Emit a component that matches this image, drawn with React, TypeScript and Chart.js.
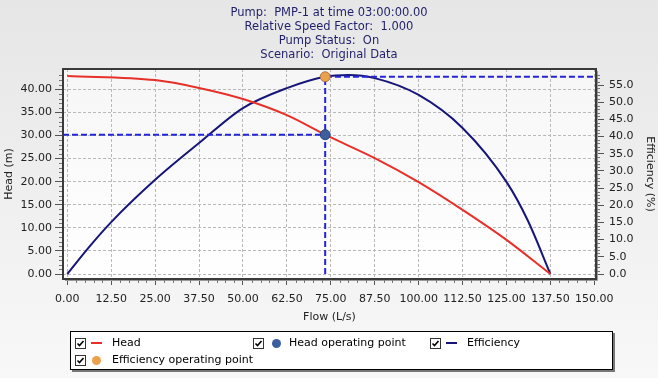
import React, { useEffect, useRef } from 'react';
import { Chart, registerables } from 'chart.js';

Chart.register(...registerables);

// ---------- data ----------
const titleLines = [
  'Pump:  PMP-1 at time 03:00:00.00',
  'Relative Speed Factor:  1.000',
  'Pump Status:  On',
  'Scenario:  Original Data',
];

const headFlow = [0, 25, 37.5, 50, 62.5, 73.4, 87.5, 100, 112.5, 125, 137.5];
const headValues = [42.9, 42.0, 40.3, 37.9, 34.4, 30.17, 25.1, 19.9, 13.9, 7.4, 0];

const effFlow = [0, 6.25, 12.5, 25, 37.5, 50, 62.5, 73.4, 80, 87.5, 100, 112.5, 125, 131, 137.5];
const effValues = [0, 7.9, 15.1, 27.4, 38.1, 48.3, 54.1, 57.4, 57.9, 57.0, 52.1, 42.5, 26.8, 15.7, 0];

const opFlow = 73.4;
const opHead = 30.17;
const opEff = 57.4;

const xTicks = [0, 12.5, 25, 37.5, 50, 62.5, 75, 87.5, 100, 112.5, 125, 137.5, 150];
const headTicks = [0, 5, 10, 15, 20, 25, 30, 35, 40];
const effTicks = [0, 5, 10, 15, 20, 25, 30, 35, 40, 45, 50, 55];

const xRange = [-1.22, 150.48];
const headRange = [-1.08, 44.4];
const effRange = [-1.455, 59.66];

const legendLabels = ['Head', 'Head operating point', 'Efficiency', 'Efficiency operating point'];

// ---------- styles ----------
const FONT = 'DejaVu Sans';
const RED = '#e8302a';
const NAVY = '#16167a';
const DASH_BLUE = '#2424d8';
const OP_BLUE = '#3d5f9e';
const OP_ORANGE = '#eba04a';
const GRID = '#b9b9b9';

const decorPlugin = {
  id: 'decor',
  beforeDraw(chart: any) {
    const { ctx, width, height, chartArea: a } = chart;
    ctx.save();
    const g = ctx.createLinearGradient(0, 0, 0, height);
    g.addColorStop(0, '#e6e6e6');
    g.addColorStop(1, '#f8f8f8');
    ctx.fillStyle = g;
    ctx.fillRect(0, 0, width, height);
    const g2 = ctx.createLinearGradient(0, a.top, 0, a.bottom);
    g2.addColorStop(0, '#f6f6f6');
    g2.addColorStop(1, '#ffffff');
    ctx.fillStyle = g2;
    ctx.fillRect(a.left, a.top, a.right - a.left, a.bottom - a.top);
    ctx.restore();
  },
  afterDraw(chart: any) {
    const { ctx, chartArea: a, scales } = chart;
    ctx.save();
    // frame
    ctx.strokeStyle = '#9a9a9a';
    ctx.lineWidth = 1;
    ctx.beginPath();
    ctx.moveTo(a.right + 1.5, a.top + 2);
    ctx.lineTo(a.right + 1.5, a.bottom + 1.5);
    ctx.lineTo(a.left + 2, a.bottom + 1.5);
    ctx.stroke();
    ctx.strokeStyle = '#3a3a3a';
    ctx.lineWidth = 2;
    ctx.strokeRect(a.left, a.top, a.right - a.left, a.bottom - a.top);
    // minor ticks
    ctx.strokeStyle = '#777';
    ctx.lineWidth = 1;
    ctx.beginPath();
    const y = scales.y, y1 = scales.y1, x = scales.x;
    for (let v = 1; v < 44; v++) {
      if (v % 5 === 0) continue;
      const p = Math.round(y.getPixelForValue(v)) + 0.5;
      ctx.moveTo(a.left - 1, p);
      ctx.lineTo(a.left - 4, p);
    }
    for (let v = 1; v < 59; v++) {
      if (v % 5 === 0) continue;
      const p = Math.round(y1.getPixelForValue(v)) + 0.5;
      ctx.moveTo(a.right + 1, p);
      ctx.lineTo(a.right + 4, p);
    }
    for (let v = 2.5; v < 150; v += 2.5) {
      if (Math.abs(v / 12.5 - Math.round(v / 12.5)) < 1e-6) continue;
      const p = Math.round(x.getPixelForValue(v)) + 0.5;
      ctx.moveTo(p, a.bottom + 1);
      ctx.lineTo(p, a.bottom + 4);
    }
    ctx.stroke();
    // title
    ctx.fillStyle = '#1f1f6b';
    ctx.font = `11.5px "${FONT}"`;
    ctx.textAlign = 'center';
    ctx.textBaseline = 'middle';
    titleLines.forEach((t, i) => ctx.fillText(t, 329, 13.5 + i * 14));
    ctx.restore();
  },
};

const tickFont = { family: FONT, size: 11 };

function buildConfig(): any {
  return {
    type: 'line',
    data: {
      datasets: [
        {
          label: legendLabels[1],
          data: [{ x: opFlow, y: opHead }],
          yAxisID: 'y',
          showLine: false,
          pointRadius: 5,
          pointBackgroundColor: OP_BLUE,
          pointBorderColor: '#2b4578',
          pointBorderWidth: 1,
          order: 0,
        },
        {
          label: legendLabels[3],
          data: [{ x: opFlow, y: opEff }],
          yAxisID: 'y1',
          showLine: false,
          pointRadius: 5,
          pointBackgroundColor: OP_ORANGE,
          pointBorderColor: '#a87a50',
          pointBorderWidth: 1,
          order: 0,
        },
        {
          label: 'head-guide',
          data: [
            { x: xRange[0], y: opHead },
            { x: opFlow, y: opHead },
          ],
          yAxisID: 'y',
          borderColor: DASH_BLUE,
          borderWidth: 2,
          borderDash: [6, 3],
          pointRadius: 0,
          fill: false,
          order: 1,
        },
        {
          label: 'eff-guide',
          data: [
            { x: opFlow, y: 0 },
            { x: opFlow, y: opEff },
            { x: xRange[1], y: opEff },
          ],
          yAxisID: 'y1',
          borderColor: DASH_BLUE,
          borderWidth: 2,
          borderDash: [6, 3],
          pointRadius: 0,
          fill: false,
          order: 1,
        },
        {
          label: legendLabels[0],
          data: headFlow.map((f, i) => ({ x: f, y: headValues[i] })),
          yAxisID: 'y',
          borderColor: RED,
          borderWidth: 2,
          pointRadius: 0,
          cubicInterpolationMode: 'monotone',
          fill: false,
          order: 2,
        },
        {
          label: legendLabels[2],
          data: effFlow.map((f, i) => ({ x: f, y: effValues[i] })),
          yAxisID: 'y1',
          borderColor: NAVY,
          borderWidth: 2,
          pointRadius: 0,
          cubicInterpolationMode: 'monotone',
          fill: false,
          order: 2,
        },
      ],
    },
    options: {
      animation: false,
      responsive: false,
      maintainAspectRatio: false,
      events: [],
      layout: { padding: { top: 69, bottom: 50, left: 0, right: 0 } },
      plugins: {
        legend: { display: false },
        tooltip: { enabled: false },
        title: { display: false },
      },
      scales: {
        x: {
          type: 'linear',
          position: 'bottom',
          min: xRange[0],
          max: xRange[1],
          afterBuildTicks: (s: any) => {
            s.ticks = xTicks.map((v) => ({ value: v }));
          },
          afterFit: (s: any) => {
            s.height = 49;
          },
          ticks: {
            autoSkip: false,
            maxRotation: 0,
            padding: 8,
            color: '#222',
            font: tickFont,
            callback: (v: any) => Number(v).toFixed(2),
          },
          grid: {
            color: GRID,
            lineWidth: 1,
            tickColor: '#555',
            tickLength: 6,
            tickBorderDash: [],
          },
          border: { display: false, dash: [3, 2] },
          title: {
            display: true,
            text: 'Flow (L/s)',
            color: '#222',
            font: tickFont,
            padding: { top: 2, bottom: 4 },
          },
        },
        y: {
          type: 'linear',
          position: 'left',
          min: headRange[0],
          max: headRange[1],
          afterBuildTicks: (s: any) => {
            s.ticks = headTicks.map((v) => ({ value: v }));
          },
          afterFit: (s: any) => {
            s.width = 63;
          },
          ticks: {
            padding: 3,
            color: '#222',
            font: tickFont,
            callback: (v: any) => Number(v).toFixed(2),
          },
          grid: {
            color: GRID,
            lineWidth: 1,
            tickColor: '#555',
            tickLength: 8,
            tickBorderDash: [],
          },
          border: { display: false, dash: [3, 2] },
          title: {
            display: true,
            text: 'Head (m)',
            color: '#222',
            font: tickFont,
            padding: { top: 3, bottom: 2 },
          },
        },
        y1: {
          type: 'linear',
          position: 'right',
          min: effRange[0],
          max: effRange[1],
          afterBuildTicks: (s: any) => {
            s.ticks = effTicks.map((v) => ({ value: v }));
          },
          afterFit: (s: any) => {
            s.width = 62;
          },
          ticks: {
            padding: 5,
            color: '#222',
            font: tickFont,
            callback: (v: any) => Number(v).toFixed(1),
          },
          grid: {
            drawOnChartArea: false,
            tickColor: '#555',
            tickLength: 8,
            tickBorderDash: [],
          },
          border: { display: false },
          title: {
            display: true,
            text: 'Efficiency (%)',
            color: '#222',
            font: tickFont,
            padding: { top: 2, bottom: 4 },
          },
        },
      },
    },
    plugins: [decorPlugin],
  };
}

// ---------- legend (HTML) ----------
const legendLayout = [
  { label: legendLabels[0], kind: 'line', color: RED, box: 75, mark: 91, text: 112, row: 0 },
  { label: legendLabels[1], kind: 'dot', color: OP_BLUE, box: 253, mark: 272, text: 289, row: 0 },
  { label: legendLabels[2], kind: 'line', color: NAVY, box: 430, mark: 446, text: 467, row: 0 },
  { label: legendLabels[3], kind: 'dot', color: OP_ORANGE, box: 75, mark: 92, text: 112, row: 1 },
];
const rowY = [343, 360];

function CheckBox({ left, cy }: { left: number; cy: number }) {
  return (
    <svg
      width={11}
      height={11}
      style={{ position: 'absolute', left, top: cy - 5.5 }}
    >
      <rect x={0.5} y={0.5} width={10} height={10} fill="#fff" stroke="#333" strokeWidth={1} />
      <polyline points="2.5,5.5 4.5,7.5 8.5,3" fill="none" stroke="#000" strokeWidth={1.6} />
    </svg>
  );
}

export default function App() {
  const ref = useRef<HTMLCanvasElement>(null);
  useEffect(() => {
    const chart = new Chart(ref.current as HTMLCanvasElement, buildConfig());
    return () => chart.destroy();
  }, []);
  return (
    <div style={{ position: 'absolute', left: 0, top: 0, width: 658, height: 378, overflow: 'hidden' }}>
      <canvas ref={ref} width={658} height={378} style={{ display: 'block', width: 658, height: 378 }} />
      <div
        style={{
          position: 'absolute',
          left: 70,
          top: 331,
          width: 541,
          height: 37,
          background: '#fff',
          border: '1px solid #000',
          boxShadow: '2px 2px 0 #777',
        }}
      />
      {legendLayout.map((it) => {
        const cy = rowY[it.row];
        return (
          <React.Fragment key={it.label}>
            <CheckBox left={it.box} cy={cy} />
            {it.kind === 'line' ? (
              <div
                style={{
                  position: 'absolute',
                  left: it.mark,
                  top: cy - 1,
                  width: 11,
                  height: 2,
                  background: it.color,
                }}
              />
            ) : (
              <div
                style={{
                  position: 'absolute',
                  left: it.mark,
                  top: cy - 4.5,
                  width: 9,
                  height: 9,
                  borderRadius: '50%',
                  background: it.color,
                }}
              />
            )}
            <div
              style={{
                position: 'absolute',
                left: it.text,
                top: cy - 8,
                height: 16,
                lineHeight: '16px',
                fontFamily: FONT,
                fontSize: 11,
                color: '#000',
                whiteSpace: 'nowrap',
              }}
            >
              {it.label}
            </div>
          </React.Fragment>
        );
      })}
    </div>
  );
}
